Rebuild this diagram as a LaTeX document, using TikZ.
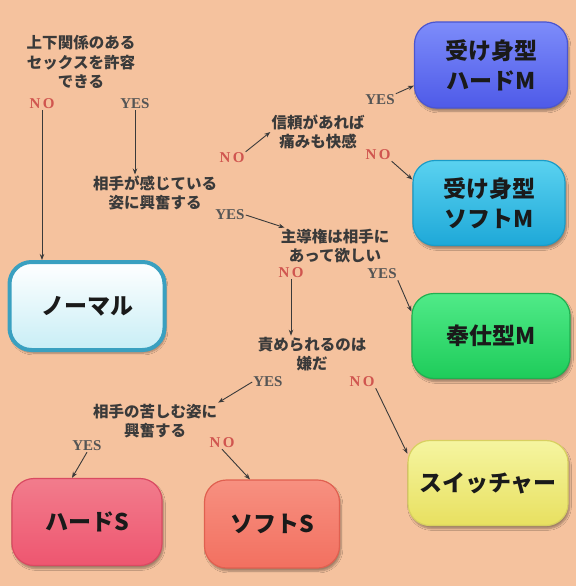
\documentclass[tikz,border=0pt]{standalone}
\usepackage{fontspec}
\setmainfont{Liberation Serif}
\newfontfamily\jp{Noto Sans CJK JP}
\usetikzlibrary{arrows.meta,shadows.blur}
\definecolor{bg}{HTML}{F5C29E}
\definecolor{qtext}{HTML}{3A3A3A}
\definecolor{yescol}{HTML}{555555}
\definecolor{nocol}{HTML}{D0554F}
\definecolor{linecol}{HTML}{3A3A3A}
\definecolor{boxtext}{HTML}{1A1A1A}
\newcommand{\NOtxt}{N\kern2.5pt O}
\begin{document}
\begin{tikzpicture}[x=1pt,y=-1pt,
  q/.style={font=\jp\bfseries\fontsize{15.5}{19.5}\selectfont, text=qtext, align=center, inner sep=1pt},
  yes/.style={font=\bfseries\fontsize{15}{15}\selectfont, text=yescol, inner sep=1pt},
  no/.style={font=\bfseries\fontsize{15}{15}\selectfont, text=nocol, inner sep=1pt},
  conn/.style={draw=linecol, line width=0.9pt, -{Stealth[length=6pt,width=4.5pt]}},
  res/.style={rounded corners=22pt, align=center, line width=1.2pt,
    font=\jp\bfseries\fontsize{23}{30}\selectfont, text=boxtext,
    blur shadow={shadow xshift=1.5pt, shadow yshift=-3pt, shadow blur steps=6, shadow opacity=35}},
]
\useasboundingbox (0,0) rectangle (576,586);
\fill[bg] (0,0) rectangle (576,586);

% questions and answers
\node[q] (q1) at (81,62) {上下関係のある\\セックスを許容\\できる};
\node[no] (n1) at (42,104) {\NOtxt};
\node[yes] (y1) at (135,104) {YES};
\node[q] (q2) at (155,193) {相手が感じている\\姿に興奮する};
\node[no] (n2) at (232,158) {\NOtxt};
\node[q] (q3) at (318,132) {信頼があれば\\痛みも快感};
\node[yes] (y3) at (380,100) {YES};
\node[no] (n3) at (378,155) {\NOtxt};
\node[yes] (y2) at (230,215) {YES};
\node[q] (q4) at (335,246) {主導権は相手に\\あって欲しい};
\node[no] (n4) at (291,273) {\NOtxt};
\node[yes] (y4) at (382,274) {YES};
\node[q] (q5) at (312,354) {責められるのは\\嫌だ};
\node[yes] (y5) at (268,382) {YES};
\node[no] (n5) at (362,382) {\NOtxt};
\node[q] (q6) at (155,421) {相手の苦しむ姿に\\興奮する};
\node[yes] (y6) at (87,446) {YES};
\node[no] (n6) at (222,443) {\NOtxt};

% result boxes
\node[res, minimum width=155pt, minimum height=88pt, draw={rgb,255:red,58;green,160;blue,192}, line width=4pt,
  top color=white, bottom color={rgb,255:red,200;green,238;blue,246}] (normal) at (87,306) {ノーマル};
\node[res, minimum width=153pt, minimum height=86pt, draw={rgb,255:red,74;green,85;blue,208},
  top color={rgb,255:red,125;green,140;blue,250}, bottom color={rgb,255:red,78;green,90;blue,232}] (hardM) at (491,65) {受け身型\\ハードM};
\node[res, minimum width=152pt, minimum height=85pt, draw={rgb,255:red,26;green,156;blue,200},
  top color={rgb,255:red,90;green,210;blue,240}, bottom color={rgb,255:red,30;green,168;blue,216}] (softM) at (489,203) {受け身型\\ソフトM};
\node[res, minimum width=158pt, minimum height=85pt, draw={rgb,255:red,32;green,176;blue,80},
  top color={rgb,255:red,80;green,234;blue,136}, bottom color={rgb,255:red,30;green,204;blue,90}] (houshi) at (491,336) {奉仕型M};
\node[res, minimum width=160pt, minimum height=85pt, draw={rgb,255:red,216;green,208;blue,96},
  top color={rgb,255:red,245;green,245;blue,160}, bottom color={rgb,255:red,232;green,224;blue,96}] (switch) at (488,483) {スイッチャー};
\node[res, minimum width=150pt, minimum height=87pt, draw={rgb,255:red,218;green,74;blue,98},
  top color={rgb,255:red,242;green,124;blue,140}, bottom color={rgb,255:red,238;green,86;blue,112}] (hardS) at (87,522) {ハードS};
\node[res, minimum width=135pt, minimum height=88pt, draw={rgb,255:red,224;green,96;blue,80},
  top color={rgb,255:red,247;green,144;blue,128}, bottom color={rgb,255:red,242;green,112;blue,96}] (softS) at (272,524) {ソフトS};

% connectors
\draw[conn] (n1.south) -- (n1.south |- normal.north);
\draw[conn] (y1.south) -- (y1.south |- q2.north);
\draw[conn] (n2.north east) -- (q3.west);
\draw[conn] (y3.north east) -- (hardM.195);
\draw[conn] (n3.south east) -- (softM.163);
\draw[conn] (y2.east) -- (q4.160);
\draw[conn] (n4.south) -- (n4.south |- q5.north);
\draw[conn] (y4.south east) -- (houshi.163);
\draw[conn] (y5.west) -- (q6.north east);
\draw[conn] (n5.south east) -- (switch.160);
\draw[conn] (y6.south) -- ([xshift=-15pt]hardS.north);
\draw[conn] (n6.south) -- ([xshift=-22pt]softS.north);
\end{tikzpicture}
\end{document}
